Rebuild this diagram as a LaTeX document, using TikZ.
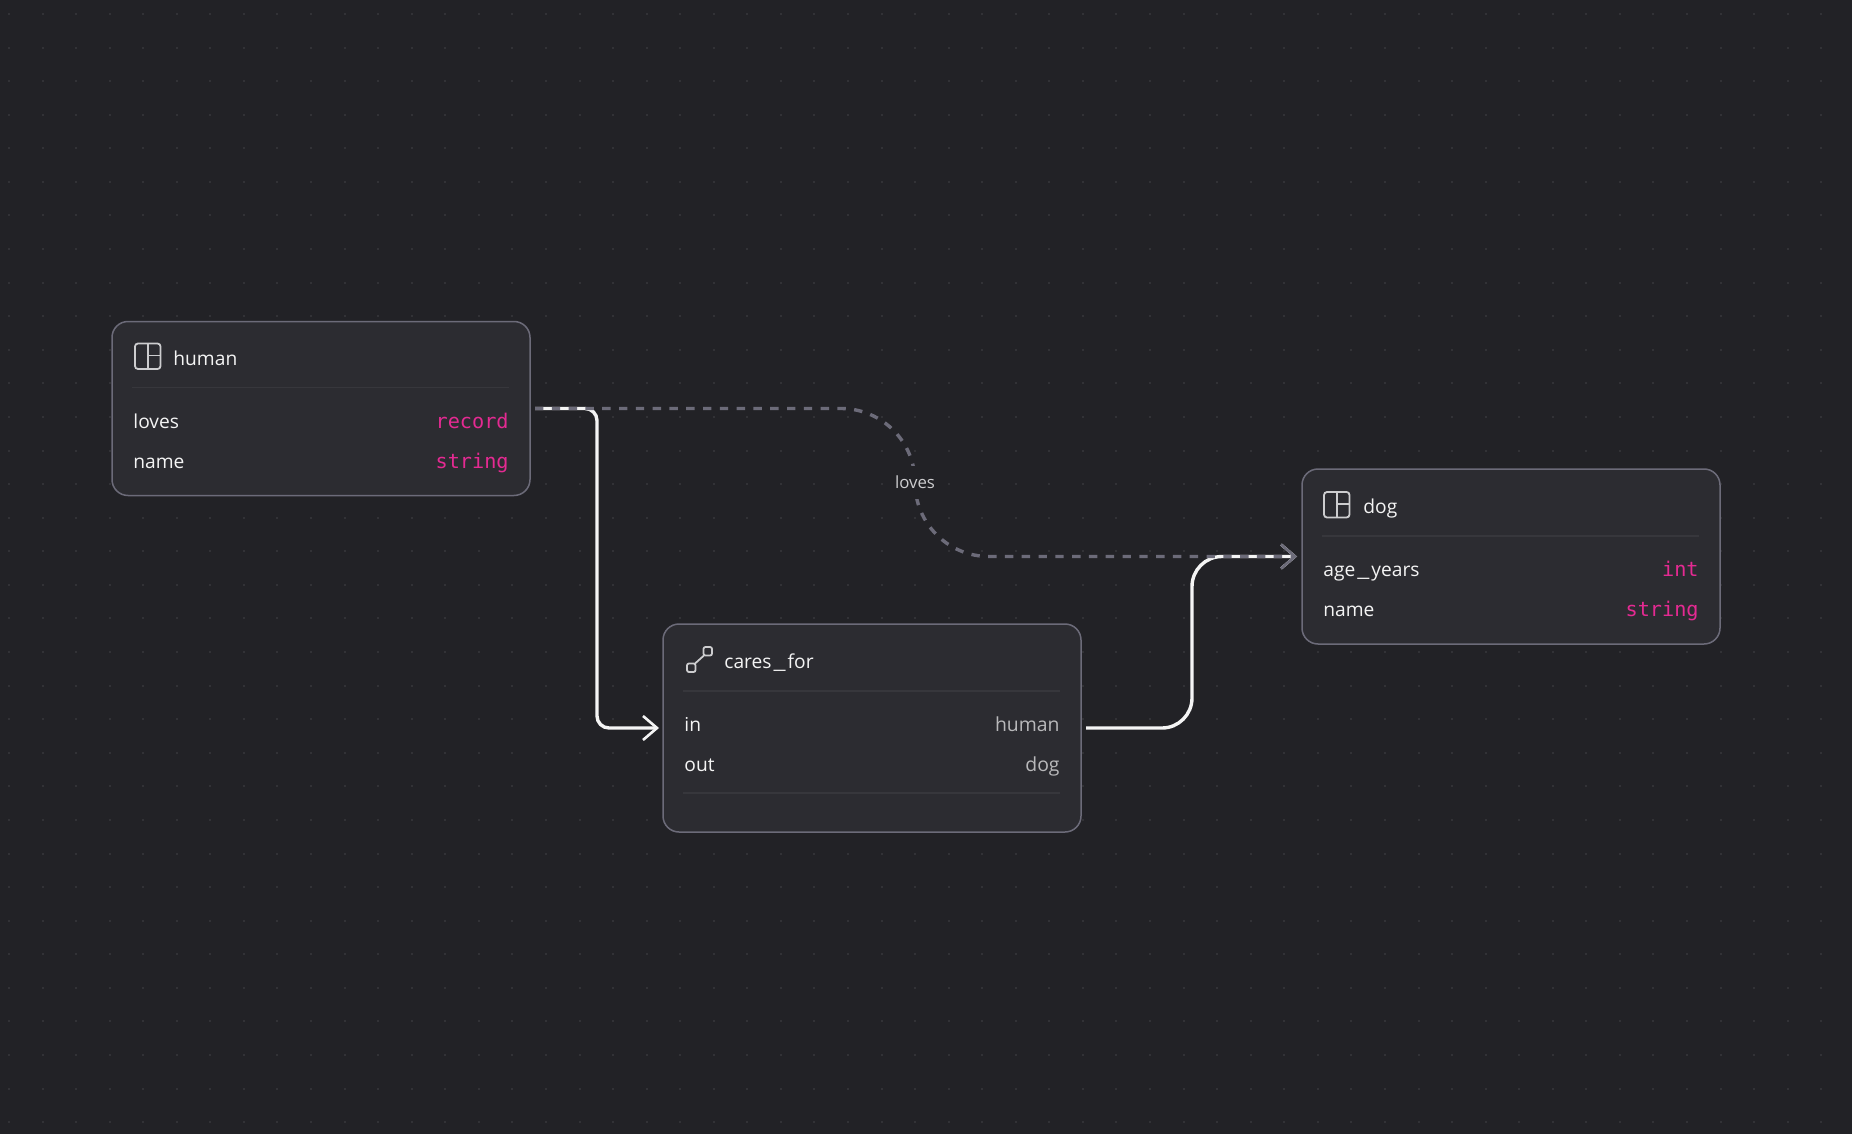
\documentclass[tikz,border=0pt]{standalone}
\usepackage{fontspec}
\setmainfont{Open Sans}
\setmonofont{DejaVu Sans Mono}
\usetikzlibrary{arrows.meta,positioning}
\definecolor{canvas}{HTML}{222226}
\definecolor{griddot}{HTML}{323236}
\definecolor{panel}{HTML}{2C2C31}
\definecolor{rim}{HTML}{6C6B79}
\definecolor{rule}{HTML}{37373C}
\definecolor{ink}{HTML}{F4F4F4}
\definecolor{mute}{HTML}{B8B8BA}
\definecolor{kind}{HTML}{E42A92}
\newcommand{\wideus}{\kern1pt\scalebox{1.4}[1]{\_}\kern1pt}
\tikzset{
  tablebox/.style={draw=rim, line width=0.75pt, fill=panel, rounded corners=8pt, inner sep=0pt, outer sep=0pt, minimum width=209pt},
  title/.style={anchor=base west, inner sep=0pt, text=ink, font=\fontsize{9.6}{11}\selectfont},
  field/.style={title},
  typename/.style={anchor=base east, inner sep=0pt, text=kind, font=\ttfamily\fontsize{10.1}{11}\selectfont},
  recname/.style={anchor=base east, inner sep=0pt, text=mute, font=\fontsize{9.7}{11}\selectfont},
  divider/.style={draw=rule, line width=0.6pt},
  glyph/.style={draw=mute!70!white, line width=0.9pt},
  edgeline/.style={line width=1.7pt, shorten <=2.5pt, shorten >=2.5pt, -{Straight Barb[length=7pt,width=12pt,line width=1.3pt]}},
  relline/.style={edgeline, draw=ink},
  dashline/.style={edgeline, draw=rim, dash pattern=on 4.2pt off 4.2pt},
  edgelabel/.style={fill=canvas, text=mute!70!white, inner sep=1pt, minimum height=16.5pt, font=\fontsize{8.4}{9}\selectfont},
  tableicon/.pic={
    \draw[glyph, rounded corners=1.5pt] (0,0) rectangle (25.5,25.5);
    \draw[glyph] (13,0) -- (13,25.5) (13,12) -- (25.5,12);
  },
  relicon/.pic={
    \draw[glyph, rounded corners=1pt] (0,16.5) rectangle (8.5,25);
    \draw[glyph, rounded corners=1pt] (16.5,0) rectangle (25,8.5);
    \draw[glyph] (7.5,17) -- (17.5,8);
  }
}
\begin{document}
\begin{tikzpicture}[x=0.5pt, y=-0.5pt]
\fill[canvas] (0,0) rectangle (1852,1134);
\useasboundingbox (0,0) rectangle (1852,1134);
\foreach \col in {0,...,54} \foreach \row in {0,...,33}
  \fill[griddot] ({8+33.56*\col},{13+33.58*\row}) rectangle +(2,2);

\node[tablebox, minimum height=87pt] (human) at (321,408.5) {};
\node[tablebox, minimum height=104pt] (cares) at (872,728) {};
\node[tablebox, minimum height=87.5pt] (dog) at (1511,556.5) {};

\pic at ([shift={(23,22)}]human.north west) {tableicon};
\node[title] (humantitle) at ([shift={(61,44)}]human.north west) {human};
\draw[divider] ([shift={(20,66)}]human.north west) -- ([shift={(-21,66)}]human.north east);
\node[field] (humanloves) at ([shift={(21,107)}]human.north west) {loves};
\node[typename] (humanlovestype) at ([shift={(-21,107)}]human.north east) {record};
\node[field] (humanname) at ([shift={(21,147)}]human.north west) {name};
\node[typename] (humannametype) at ([shift={(-21,147)}]human.north east) {string};

\pic at ([shift={(24,23)}]cares.north west) {relicon};
\node[title] (carestitle) at ([shift={(61,44)}]cares.north west) {cares\wideus for};
\draw[divider] ([shift={(20,67)}]cares.north west) -- ([shift={(-21,67)}]cares.north east);
\node[field] (caresin) at ([shift={(21,107)}]cares.north west) {in};
\node[recname] (caresintype) at ([shift={(-21,107)}]cares.north east) {human};
\node[field] (caresout) at ([shift={(21,147)}]cares.north west) {out};
\node[recname] (caresouttype) at ([shift={(-21,147)}]cares.north east) {dog};
\draw[divider] ([shift={(20,169)}]cares.north west) -- ([shift={(-21,169)}]cares.north east);

\pic at ([shift={(22,23)}]dog.north west) {tableicon};
\node[title] (dogtitle) at ([shift={(61,44)}]dog.north west) {dog};
\draw[divider] ([shift={(20,67)}]dog.north west) -- ([shift={(-21,67)}]dog.north east);
\node[field] (dogage) at ([shift={(21,107)}]dog.north west) {age\wideus years};
\node[typename] (dogagetype) at ([shift={(-21,107)}]dog.north east) {int};
\node[field] (dogname) at ([shift={(21,147)}]dog.north west) {name};
\node[typename] (dognametype) at ([shift={(-21,147)}]dog.north east) {string};

\coordinate (inbend) at (597,568);
\coordinate (outbend) at (1192,640);
\coordinate (lovesbend) at (915,482);
\coordinate (lovestop) at (human.east -| lovesbend);
\coordinate (lovesfoot) at (dog.west -| lovesbend);
\draw[relline, rounded corners=6pt, shorten >=2pt] (human.east) -- (human.east -| inbend) -- (cares.west -| inbend) -- (cares.west);
\draw[relline, rounded corners=15pt] (cares.east) -- (cares.east -| outbend) -- (dog.west -| outbend) -- (dog.west);
\draw[dashline, rounded corners=37pt] (human.east) -- (lovestop) -- (lovesfoot) -- (dog.west);
\node[edgelabel] (loveslabel) at (lovesbend) {loves};
\end{tikzpicture}
\end{document}
